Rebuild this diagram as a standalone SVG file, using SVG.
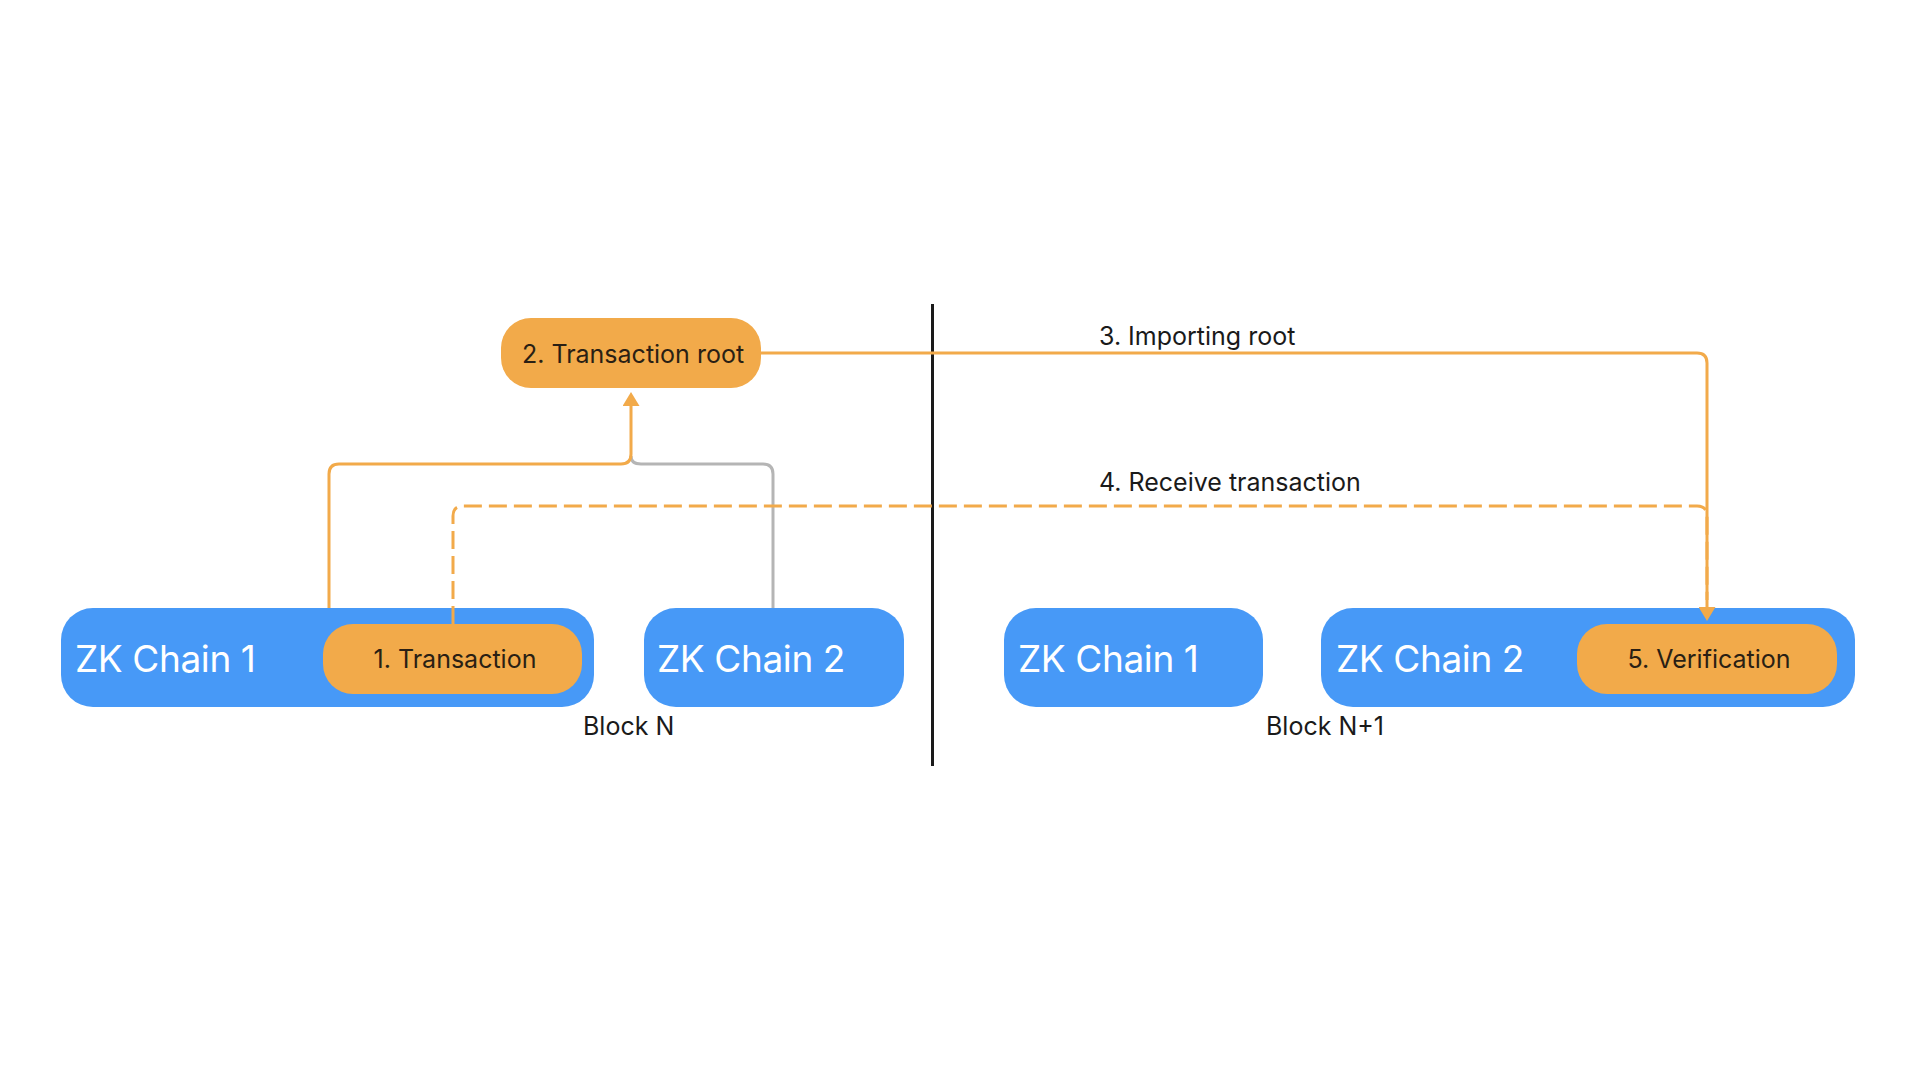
<svg xmlns="http://www.w3.org/2000/svg" width="1906" height="1068" viewBox="0 0 1906 1068">
<style>
.blue{fill:#4799F7}
.orange{fill:#F2AA4A}
.chain{font-family:Inter,"Noto Sans","Liberation Sans",sans-serif;font-size:37px;letter-spacing:-0.4px;fill:#ffffff}
.step{font-family:Inter,"Noto Sans","Liberation Sans",sans-serif;font-size:25px;fill:#2a1f14;text-anchor:middle}
.label{font-family:Inter,"Noto Sans","Liberation Sans",sans-serif;font-size:25px;fill:#1a1a1a}
.conn{fill:none;stroke:#F2AA4A;stroke-width:3}
.dash{stroke-dasharray:18 7}
.gray{fill:none;stroke:#B5B5B5;stroke-width:3}
</style>
<defs>
<marker id="arrow" viewBox="0 0 14 17" refX="0" refY="8.5" markerWidth="14" markerHeight="17" markerUnits="userSpaceOnUse" orient="auto">
<path d="M0,0 L14,8.5 L0,17 z" fill="#F2AA4A"/>
</marker>
</defs>
<rect width="1906" height="1068" fill="#ffffff"/>
<line x1="932.5" y1="304" x2="932.5" y2="766" stroke="#1a1a1a" stroke-width="3"/>
<g id="zk1-n">
<rect class="blue" x="61" y="608" width="533" height="99" rx="32"/>
<text class="chain" x="75" y="672">ZK Chain 1</text>
</g>
<g id="zk2-n">
<rect class="blue" x="644" y="608" width="260" height="99" rx="32"/>
<text class="chain" x="657" y="672">ZK Chain 2</text>
</g>
<g id="zk1-n1">
<rect class="blue" x="1004" y="608" width="259" height="99" rx="32"/>
<text class="chain" x="1018" y="672">ZK Chain 1</text>
</g>
<g id="zk2-n1">
<rect class="blue" x="1321" y="608" width="534" height="99" rx="32"/>
<text class="chain" x="1336" y="672">ZK Chain 2</text>
</g>
<g id="transaction">
<rect class="orange" x="323" y="624" width="259" height="70" rx="30"/>
<text class="step" x="455" y="668">1. Transaction</text>
</g>
<g id="transaction-root">
<rect class="orange" x="501" y="318" width="260" height="70" rx="30"/>
<text class="step" x="633" y="363">2. Transaction root</text>
</g>
<g id="verification">
<rect class="orange" x="1577" y="624" width="260" height="70" rx="30"/>
<text class="step" x="1709" y="668">5. Verification</text>
</g>
<g id="connectors">
<path class="gray" d="M773,608 V474 Q773,464 763,464 H641 Q631,464 631,456"/>
<path class="conn" d="M329,608 V474 Q329,464 339,464 H621 Q631,464 631,454 V406" marker-end="url(#arrow)"/>
<path class="conn" d="M761,353 H1697 Q1707,353 1707,363 V607" marker-end="url(#arrow)"/>
<path class="conn dash" d="M453,624 V516 Q453,506 463,506 H1697 Q1707,506 1707,516 V600"/>
</g>
<g id="labels">
<text class="label" x="1099" y="345">3. Importing root</text>
<text class="label" x="1099" y="491">4. Receive transaction</text>
<text class="label" x="583" y="735">Block N</text>
<text class="label" x="1266" y="735">Block N+1</text>
</g>
</svg>
